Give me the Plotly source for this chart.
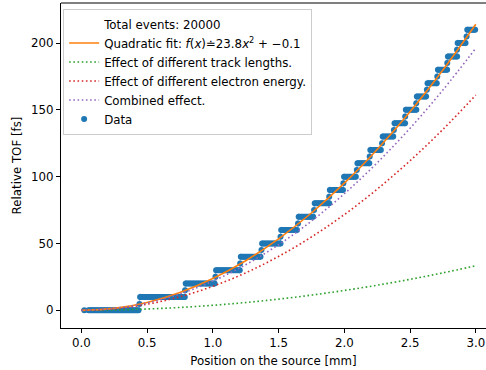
import numpy as np
import plotly.graph_objects as go

# ---- values ----
step_levels = [0, 10, 20, 30, 40, 50, 60, 70, 80, 90, 100, 110, 120, 130, 140,
               150, 160, 170, 180, 190, 200, 210]
step_bounds = [0.055, 0.447, 0.794, 1.025, 1.213, 1.375, 1.52, 1.653, 1.775, 1.89,
               1.998, 2.10, 2.198, 2.292, 2.382, 2.468, 2.552, 2.633, 2.712, 2.788,
               2.862, 2.935, 3.0]
trans_y = [4.7, 15, 25, 35, 45, 55, 65, 75, 85, 95, 105, 115, 125, 135, 145,
           155, 165, 175, 185, 195, 205]
trans_err = [5, 5, 5, 5, 5, 5, 5, 5, 5, 5, 5, 5, 5, 5, 5, 5, 5, 5, 5, 5, 5]
lone_x = [0.023]
lone_y = [0.0]

curve_x = [0, 0.25, 0.5, 0.75, 1.0, 1.25, 1.5, 1.75, 2.0, 2.25, 2.5, 2.75, 3.0]
fit_y = [-0.1, 1.39, 5.85, 13.29, 23.7, 37.09, 53.45, 72.79, 95.1, 120.39, 148.65, 179.89, 214.1]
track_y = [0, 0.23, 0.93, 2.08, 3.7, 5.78, 8.33, 11.33, 14.8, 18.73, 23.13, 27.98, 33.3]
energy_y = [0, 1.12, 4.48, 10.07, 17.9, 27.97, 40.28, 54.82, 71.6, 90.62, 111.88, 135.37, 161.1]
combined_y = [0, 1.36, 5.45, 12.26, 21.8, 34.06, 49.05, 66.76, 87.2, 110.36, 136.25, 164.86, 196.2]

x_ticks = [0.0, 0.5, 1.0, 1.5, 2.0, 2.5, 3.0]
y_ticks = [0, 50, 100, 150, 200]

# ---- build data points (sampled along each read step) ----
dx, dy, de = list(lone_x), list(lone_y), [0.0]
for i, lvl in enumerate(step_levels):
    a, b = step_bounds[i], step_bounds[i + 1]
    xs = np.arange(a, b - 0.004, 0.01)
    for j, xv in enumerate(xs):
        dx.append(float(xv)); dy.append(lvl)
        de.append(2.5 if (j == len(xs) - 1 or j == 0) and lvl > 0 else 0.0)
    if i < len(trans_y):
        dx.append(b - 0.005); dy.append(trans_y[i]); de.append(trans_err[i])

BLUE, ORANGE, GREEN, RED, PURPLE = "#1f77b4", "#ff7f0e", "#2ca02c", "#d62728", "#9467bd"
FONT = "DejaVu Sans"
FS = 11.8
dotdash = "1.6px,2.6px"

fig = go.Figure()
# data drawn first (underneath the curves) but listed last in the legend
fig.add_trace(go.Scatter(x=dx, y=dy, mode="markers",
                         marker=dict(color=BLUE, size=6),
                         error_y=dict(type="data", array=de, visible=True,
                                      color="rgba(31,119,180,0.45)", thickness=1, width=0),
                         name="Data", legendrank=1006))
fig.add_trace(go.Scatter(x=[None], y=[None], mode="lines",
                         line=dict(color="rgba(0,0,0,0)", width=1),
                         name="Total events: 20000", legendrank=1000))
fig.add_trace(go.Scatter(x=curve_x, y=fit_y, mode="lines", line_shape="spline",
                         line=dict(color=ORANGE, width=1.6),
                         name="Quadratic fit: <i>f</i>(<i>x</i>)≐23.8<i>x</i><sup>2</sup> + −0.1",
                         legendrank=1001))
fig.add_trace(go.Scatter(x=curve_x, y=track_y, mode="lines", line_shape="spline",
                         line=dict(color=GREEN, width=1.6, dash=dotdash),
                         name="Effect of different track lengths.", legendrank=1002))
fig.add_trace(go.Scatter(x=curve_x, y=energy_y, mode="lines", line_shape="spline",
                         line=dict(color=RED, width=1.6, dash=dotdash),
                         name="Effect of different electron energy.", legendrank=1003))
fig.add_trace(go.Scatter(x=curve_x, y=combined_y, mode="lines", line_shape="spline",
                         line=dict(color=PURPLE, width=1.6, dash=dotdash),
                         name="Combined effect.", legendrank=1004))

fig.update_layout(
    width=486, height=370,
    margin=dict(l=61, r=0, t=3, b=42),
    paper_bgcolor="white", plot_bgcolor="white",
    font=dict(family=FONT, size=FS, color="black"),
    showlegend=True,
    legend=dict(x=0.005, y=0.983, xanchor="left", yanchor="top",
                bgcolor="rgba(255,255,255,0.8)", bordercolor="#cccccc", borderwidth=1,
                font=dict(family=FONT, size=FS, color="black"),
                itemwidth=30, tracegroupgap=0),
    xaxis=dict(range=[-0.1544, 3.0776], tickvals=x_ticks, tickformat=".1f",
               showline=True, linecolor="black", linewidth=1, mirror=False,
               ticks="outside", ticklen=4, tickcolor="black", showgrid=False, zeroline=False,
               tickfont=dict(family=FONT, size=FS),
               title=dict(text="Position on the source [mm]", standoff=7,
                          font=dict(family=FONT, size=FS))),
    yaxis=dict(range=[-13.3, 230.0], tickvals=y_ticks,
               showline=True, linecolor="black", linewidth=1, mirror=False,
               ticks="outside", ticklen=4, tickcolor="black", showgrid=False, zeroline=False,
               tickfont=dict(family=FONT, size=FS),
               title=dict(text="Relative TOF [fs]", standoff=6,
                          font=dict(family=FONT, size=FS))),
    shapes=[dict(type="line", xref="paper", yref="paper", x0=0, x1=1, y0=1, y1=1,
                 line=dict(color="black", width=1))],
)

fig.write_html("out.html")
